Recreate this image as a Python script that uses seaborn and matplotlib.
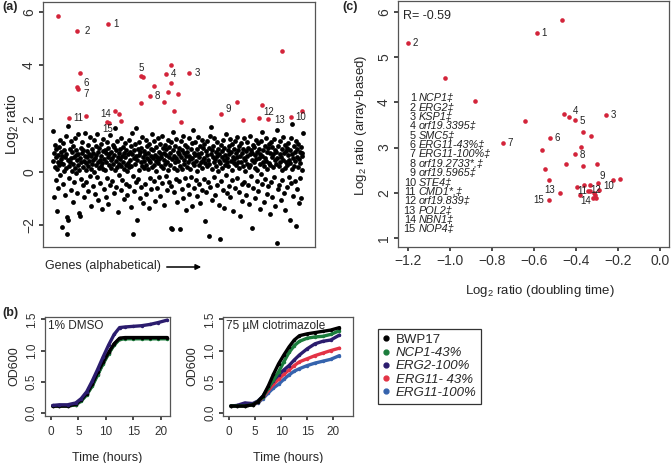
import numpy as np
import pandas as pd
import matplotlib
matplotlib.use("Agg")
import matplotlib.pyplot as plt
import seaborn as sns
from matplotlib.lines import Line2D

# ---------------- panel (a): log2 ratio of every gene (alphabetical order) ----------------
black_log2 = [
    1.55, 0.42, -0.95, 0.71, 0.18, 1.02, -0.31, 0.55, 0.86, 0.12, -1.45, 0.37, 0.64, -0.58, 0.93, 0.25, 1.21, -0.12, 0.48, 0.77,
    0.33, -2.06, 0.61, 1.08, -0.44, 0.29, 0.82, 0.05, -0.87, 0.57, 1.36, 0.14, 0.69, -2.31, -1.68, -1.78, 0.46, 1.74, 0.21, -0.22,
    0.88, 0.39, -0.66, 1.15, 0.52, 0.03, 0.74, -1.12, 0.31, 0.97, 0.58, -0.36, 1.27, 0.16, 0.63, -0.05, 0.84, 0.44, -0.79, 0.27,
    0.66, 1.41, 0.09, -1.53, -1.63, 0.51, 0.92, -0.27, 0.36, 0.73, 1.12, -0.49, 0.19, 0.81, 0.43, -0.94, 0.62, 1.48, 0.08, 0.35,
    -0.38, 0.79, 0.55, 1.03, -0.71, 0.24, 0.67, 0.41, -0.15, 1.31, 0.11, 0.59, -1.26, 0.85, 0.32, 0.71, -0.52, 0.47, 1.19, 0.02,
    0.53, -0.83, 0.96, 0.28, 0.65, -0.19, 1.44, 0.38, -1.05, 0.74, 0.15, 0.89, 0.47, -0.41, 1.06, 0.22, 0.61, -1.38, 0.34, 0.78,
    0.13, 1.25, -0.62, 0.49, 0.83, 0.06, -0.93, 0.71, 0.37, 1.13, -0.24, 0.58, 0.91, -1.19, 0.26, 0.68, 1.38, -0.47, 0.44, 0.17,
    0.76, -0.35, 0.52, 1.01, 0.29, -0.77, 0.63, 0.95, 0.07, 1.66, 0.41, -0.56, 0.84, 0.19, 1.17, -1.48, 0.55, 0.32, 0.73, -0.11,
    0.48, 0.87, -0.68, 0.23, 1.29, 0.61, -0.29, 0.39, 0.94, 0.12, -1.02, 0.72, 0.56, 1.09, -0.43, 0.27, 0.81, 0.04, -0.85, 0.66,
    0.35, 1.22, 0.18, -0.51, 0.77, 0.45, 0.98, -1.31, 0.24, 0.69, 1.46, -0.16, -2.31, 0.54, 0.83, -0.72, 0.31, 1.04, 0.59, -0.39,
    1.64, -1.78, 0.47, 0.86, -0.26, 0.63, 1.11, 0.09, -0.97, 0.74, 0.38, 0.92, -0.55, 0.21, 1.33, 0.57, -1.15, 0.42, 0.79, 0.14,
    -0.45, 0.68, 1.19, 0.26, -0.81, 0.53, 0.97, 0.11, 0.72, -1.36, 0.44, 1.05, -0.21, 0.36, 0.88, 0.62, -0.64, 1.42, 0.19, 0.51,
    0.83, -0.32, 0.28, 1.16, 0.65, -1.07, 0.41, 0.93, 0.03, 0.57, -0.59, 1.28, 0.34, 0.76, -0.18, 0.49, 1.07, -0.88, 0.22, 0.69,
    0.58, 1.35, -0.42, 0.17, 0.91, 0.46, -1.22, 0.73, 0.31, 1.02, -0.13, 0.64, 0.85, -0.69, 0.39, 1.21, 0.07, 0.55, -0.37, 0.94,
    0.26, 0.71, -0.54, 1.13, -2.09, -2.15, 0.48, 0.82, 1.52, 0.15, -0.76, 0.61, 0.37, 0.99, -0.27, 0.53, 1.24, 0.08, -1.11, 0.75,
    0.43, 0.92, -0.35, 0.67, -2.15, 0.24, 1.18, 0.56, -0.62, 0.81, 0.13, 1.37, -0.96, 0.45, 0.72, 0.31, -0.23, 1.03, 0.59, -1.41,
    0.77, 0.18, 0.95, -0.48, 0.36, 1.26, 0.62, -0.83, 0.49, 0.11, 0.87, -0.17, 1.09, 0.54, -1.29, 1.58, 0.33, 0.71, -0.58, 0.26,
    0.64, 1.14, -0.31, 0.42, 0.85, 0.05, -0.91, 0.69, 1.31, 0.27, -0.44, 0.58, 0.96, -1.17, 0.38, 0.73, 0.16, 1.22, -0.66, 0.47,
    0.89, -0.25, 0.52, 1.07, -1.84, 0.34, 0.78, -0.73, 0.21, 1.16, 0.63, -0.39, 0.45, 0.92, -2.41, 0.29, 1.34, -0.57, 1.70, 0.66,
    0.12, 0.81, -1.03, 0.56, 0.97, 0.37, -0.19, 1.27, 0.48, -0.86, 0.74, 0.23, 1.12, -0.47, 0.61, 0.04, 0.88, -1.24, 0.42, 0.69,
    -2.52, 0.35, 1.03, -0.34, 0.58, 0.79, 0.17, -0.68, 1.19, 0.46, 0.91, -1.33, 0.27, 0.64, -0.12, 1.41, 0.53, -0.79, 0.38, 0.84,
    0.22, -0.51, 0.97, 0.66, 1.23, -0.93, 0.41, 0.75, 0.09, -0.28, 1.06, 0.57, -1.46, 0.33, 0.86, 0.49, -0.61, 1.17, 0.28, 0.71,
    0.55, 1.32, -0.22, 0.39, 0.82, -0.74, 0.14, 0.96, -1.65, 0.61, 0.36, 1.08, -0.43, 0.73, -1.09, 0.24, 0.87, 0.51, -0.36, 1.26,
    0.44, 0.03, 0.78, -0.87, 0.59, 1.14, 0.31, -0.49, 0.92, 0.18, -1.21, 0.67, 1.36, 0.26, -0.15, 0.83, -2.09, 0.47, 0.72, 1.02,
    -0.58, 0.39, 0.94, 0.15, -0.97, 0.63, 1.22, 0.48, -0.32, 0.77, 0.06, 1.09, -0.71, 0.54, 0.88, -1.39, 0.29, 0.69, 1.17, -0.09,
    0.62, 1.52, -0.45, 0.37, 0.81, -1.13, 0.23, 0.97, 0.53, -0.26, 1.29, 0.41, -0.84, 0.74, 0.12, 0.89, -0.53, 1.05, 0.34, -1.58,
    0.71, 0.28, 1.11, -0.38, 0.56, 0.93, -0.92, 0.19, 0.67, 1.24, -0.17, 0.45, 0.84, -1.27, 0.32, 0.76, 1.58, -2.66, 0.51, -0.63,
    0.98, 0.21, -0.47, 0.66, 1.18, 0.39, -1.06, 0.58, 0.85, 0.07, -0.29, 1.33, 0.47, -0.77, 0.72, 0.16, 1.01, -1.44, 0.36, 0.79,
    0.27, 0.92, -0.56, 0.63, 1.09, -0.18, 0.44, 0.81, -1.80, 0.35, 1.27, -0.41, 0.69, 0.13, 1.80, -0.89, 0.53, 0.96, 0.22, -0.33,
    0.74, 0.41, 1.15, -2.02, 0.58, -0.64, 0.87, 0.19, 1.06, -1.17, 0.49, 0.76, -0.24, 0.33, 0.95, -0.98, 0.62, 0.09, 0.71, 1.48,
]
# selected (red) genes: position in the alphabetical list and log2 ratio
red_pos = [13, 131, 58, 65, 58, 59, 38, 79, 130, 135, 149, 159, 162, 210, 216, 210, 243, 232,
           271, 283, 284, 275, 266, 300, 291, 307, 327, 403, 442, 455, 501, 494, 516, 548, 570, 598]
red_log2 = [5.84, 5.54, 5.30, 3.73, 3.19, 3.10, 2.04, 2.11, 1.88, 1.84, 2.30, 2.16, 1.93, 3.60, 3.57, 2.57, 3.24, 2.84,
            3.66, 4.02, 3.33, 2.99, 2.62, 2.93, 2.27, 1.88, 3.70, 2.17, 2.62, 1.96, 2.51, 2.04, 1.98, 4.53, 2.05, 2.27]

# ---------------- panel (c): doubling time vs array ratio ----------------
c_doubling = [-0.465, -0.584, -1.200, -1.025, -0.883, -0.644, -0.749, -0.457, -0.432, -0.405, -0.256, -0.524,
              -0.367, -0.327, -0.375, -0.403, -0.560, -0.446, -0.367, -0.302, -0.549, -0.530, -0.478, -0.529,
              -0.294, -0.224, -0.190, -0.289, -0.394, -0.360, -0.332, -0.344, -0.332, -0.314, -0.308, -0.379,
              -0.319, -0.303]
c_array = [5.83, 5.54, 5.31, 4.55, 4.03, 3.58, 3.11, 3.74, 3.67, 3.61, 3.71, 3.22,
           3.34, 3.26, 3.01, 2.86, 2.94, 2.63, 2.59, 2.63, 2.52, 2.29, 1.99, 1.85,
           2.21, 2.28, 2.31, 2.06, 2.13, 2.17, 2.17, 2.05, 2.04, 1.99, 1.94, 1.94,
           1.89, 1.89]
gene_numbers = ["1", "2", "3", "4", "5", "6", "7", "8", "9", "10", "11", "12", "13", "14", "15"]
gene_names = ["NCP1‡", "ERG2‡", "KSP1‡", "orf19.3395‡", "SMC5‡", "ERG11-43%‡", "ERG11-100%‡",
              "orf19.2733*,‡", "orf19.5965‡", "STE4‡", "CMD1*,‡", "orf19.839‡", "POL2‡", "NBN1‡", "NOP4‡"]
r_value = -0.59

# ---------------- panel (b): growth curves ----------------
hours = [0.3, 1.5, 3, 4.5, 5.5, 6.5, 7.5, 8.5, 9.5, 10.5, 11.5, 12.5, 13.5, 15, 16.5, 18, 19.5, 21.2]
strains = ["BWP17", "NCP1-43%", "ERG2-100%", "ERG11- 43%", "ERG11-100%"]
dmso_bwp17 = [0.11, 0.11, 0.11, 0.14, 0.21, 0.31, 0.46, 0.65, 0.82, 0.97, 1.11, 1.20, 1.21, 1.21, 1.21, 1.21, 1.21, 1.21]
dmso_ncp1 = [0.11, 0.11, 0.11, 0.13, 0.19, 0.29, 0.43, 0.61, 0.79, 0.95, 1.09, 1.18, 1.19, 1.19, 1.19, 1.19, 1.19, 1.19]
dmso_erg2 = [0.12, 0.13, 0.13, 0.16, 0.23, 0.34, 0.51, 0.70, 0.90, 1.09, 1.26, 1.37, 1.38, 1.39, 1.40, 1.42, 1.45, 1.49]
dmso_erg11_43 = [0.11, 0.11, 0.11, 0.13, 0.20, 0.30, 0.44, 0.63, 0.80, 0.96, 1.10, 1.19, 1.20, 1.20, 1.20, 1.20, 1.20, 1.20]
dmso_erg11_100 = [0.11, 0.11, 0.11, 0.13, 0.20, 0.30, 0.44, 0.62, 0.80, 0.96, 1.10, 1.19, 1.20, 1.20, 1.20, 1.20, 1.20, 1.20]
clo_bwp17 = [0.11, 0.11, 0.11, 0.13, 0.18, 0.27, 0.43, 0.62, 0.79, 0.93, 1.06, 1.17, 1.24, 1.27, 1.29, 1.31, 1.33, 1.37]
clo_ncp1 = [0.11, 0.11, 0.11, 0.13, 0.18, 0.26, 0.40, 0.53, 0.66, 0.82, 0.97, 1.08, 1.15, 1.20, 1.22, 1.23, 1.26, 1.32]
clo_erg2 = [0.11, 0.12, 0.16, 0.15, 0.19, 0.27, 0.40, 0.52, 0.61, 0.69, 0.76, 0.85, 0.93, 1.03, 1.11, 1.15, 1.17, 1.25]
clo_erg11_43 = [0.11, 0.11, 0.11, 0.13, 0.17, 0.25, 0.36, 0.46, 0.54, 0.62, 0.69, 0.76, 0.82, 0.87, 0.92, 0.96, 1.00, 1.04]
clo_erg11_100 = [0.11, 0.11, 0.11, 0.13, 0.16, 0.23, 0.32, 0.40, 0.46, 0.54, 0.61, 0.67, 0.71, 0.76, 0.80, 0.83, 0.86, 0.92]

RED = "#d3243a"
strain_colors = ["#000000", "#1b7d3c", "#2b1c6e", "#e33345", "#3563ad"]

sns.set_theme(style="ticks")
plt.rcParams["font.family"] = ["Liberation Sans", "DejaVu Sans"]
plt.rcParams["mathtext.default"] = "regular"
plt.rcParams["axes.edgecolor"] = "#555555"
plt.rcParams["axes.linewidth"] = 0.9
plt.rcParams["xtick.major.size"] = 3
plt.rcParams["ytick.major.size"] = 3
plt.rcParams["xtick.color"] = "#333333"
plt.rcParams["ytick.color"] = "#333333"

W, H = 671, 463
fig = plt.figure(figsize=(W / 100, H / 100), dpi=100)


def box(left, top, right, bottom):
    return [left / W, 1 - bottom / H, (right - left) / W, (bottom - top) / H]


def rot_yticks(ax, size):
    ax.tick_params(axis="y", labelsize=size, pad=2)
    for t in ax.get_yticklabels():
        t.set_rotation(90)
        t.set_va("center")


# ---- (a) ----
ax_a = fig.add_axes(box(43, 2, 315, 247))
sns.scatterplot(x=np.arange(len(black_log2)), y=black_log2, color="black", s=12, linewidth=0, ax=ax_a)
sns.scatterplot(x=red_pos, y=red_log2, color=RED, s=11, linewidth=0, ax=ax_a)
ax_a.set_xlim(-24, 628)
ax_a.set_ylim(-2.81, 6.375)
ax_a.set_xticks([])
ax_a.set_yticks([-2, 0, 2, 4, 6])
ax_a.set_yticklabels(["\u22122", "0", "2", "4", "6"])
rot_yticks(ax_a, 10)
ax_a.set_ylabel("")
# labels next to the red genes: (text, index in red list, dx, dy, ha) in points
a_labels = [("1", 1, 4, 0, "left"), ("2", 2, 5, 0, "left"), ("6", 4, 4.5, 2.5, "left"),
            ("7", 5, 4.5, -3.5, "left"), ("11", 6, 3, 0, "left"), ("14", 8, -1, 5.5, "center"),
            ("15", 9, -1, -4.5, "center"), ("5", 13, 0.5, 6, "center"), ("8", 17, 3.5, 0, "left"),
            ("4", 18, 3.5, 0, "left"), ("3", 26, 3.5, 0, "left"), ("9", 27, 5, 4, "center"),
            ("12", 32, 0, 5, "center"), ("13", 32, 4.5, -0.5, "left"), ("10", 34, 3.5, 0, "left")]
for txt, i, dx, dy, ha in a_labels:
    ax_a.annotate(txt, (red_pos[i], red_log2[i]), xytext=(dx, dy), textcoords="offset points",
                  fontsize=7, ha=ha, va="center", color="#222222")
fig.text(12 / W, 1 - 124 / H, "Log$_2$ ratio", rotation=90, ha="center", va="center", fontsize=10)
fig.text(45 / W, 1 - 266 / H, "Genes (alphabetical)", ha="left", va="center", fontsize=9)
ax_a.annotate("", xy=(204 / W, 1 - 267 / H), xytext=(164 / W, 1 - 267 / H), xycoords="figure fraction",
              textcoords="figure fraction",
              arrowprops=dict(arrowstyle="-|>", color="black", lw=1.1, mutation_scale=8))

# ---- (c) ----
ax_c = fig.add_axes(box(398, 1, 669, 247))
sns.scatterplot(x=c_doubling, y=c_array, color=RED, s=11, linewidth=0, ax=ax_c)
ax_c.set_xlim(-1.248, 0.043)
ax_c.set_ylim(0.80, 6.243)
ax_c.set_xticks([-1.2, -1.0, -0.8, -0.6, -0.4, -0.2, 0.0])
ax_c.set_xticklabels(["\u22121.2", "\u22121.0", "\u22120.8", "\u22120.6", "\u22120.4", "\u22120.2", "0.0"])
ax_c.tick_params(axis="x", labelsize=10, pad=2)
ax_c.set_yticks([1, 2, 3, 4, 5, 6])
rot_yticks(ax_c, 10)
ax_c.set_ylabel("")
c_labels = [("1", 1, 3, 0, "left"), ("2", 2, 3, 0, "left"), ("3", 10, 3, 0, "left"),
            ("4", 7, 6, 2, "left"), ("5", 9, 3.5, -0.5, "left"), ("6", 11, 3.5, 0, "left"),
            ("7", 6, 3.5, 0, "left"), ("8", 15, 2.8, -1, "left"), ("9", 24, 3, 5, "center"),
            ("10", 27, 3, 3, "left"), ("11", 31, -0.5, 0, "right"), ("12", 33, 1.5, 2.5, "center"),
            ("13", 22, -3, 2, "right"), ("14", 35, 4, -4, "center"), ("15", 23, -3.5, 0, "right")]
for txt, i, dx, dy, ha in c_labels:
    ax_c.annotate(txt, (c_doubling[i], c_array[i]), xytext=(dx, dy), textcoords="offset points",
                  fontsize=7, ha=ha, va="center", color="#222222")
for k, (num, name) in enumerate(zip(gene_numbers, gene_names)):
    yk = 4.09 - k * 0.207
    ax_c.text(-1.163, yk, num, ha="right", va="center", fontsize=7.8, color="#222222")
    ax_c.text(-1.150, yk, name, ha="left", va="center", fontsize=7.8, style="italic", color="#222222")
ax_c.text(-1.225, 5.92, f"R= {r_value}", ha="left", va="center", fontsize=9)
fig.text(361 / W, 1 - 125 / H, "Log$_2$ ratio (array-based)", rotation=90, ha="center", va="center", fontsize=9.5)
fig.text(540 / W, 1 - 291 / H, "Log$_2$ ratio (doubling time)", ha="center", va="center", fontsize=9.5)

# ---- (b) ----
rows = []
for cond, series in [("dmso", [dmso_bwp17, dmso_ncp1, dmso_erg2, dmso_erg11_43, dmso_erg11_100]),
                     ("clo", [clo_bwp17, clo_ncp1, clo_erg2, clo_erg11_43, clo_erg11_100])]:
    for strain, vals in zip(strains, series):
        for t, v in zip(hours, vals):
            rows.append((cond, strain, t, v))
growth = pd.DataFrame(rows, columns=["condition", "strain", "hours", "od600"])
palette = dict(zip(strains, strain_colors))

ax_b1 = fig.add_axes(box(44.5, 317, 170, 416))
ax_b2 = fig.add_axes(box(223, 317, 353, 416))
draw_order = {"dmso": ["ERG11-100%", "ERG11- 43%", "NCP1-43%", "BWP17", "ERG2-100%"],
              "clo": ["ERG11-100%", "ERG11- 43%", "ERG2-100%", "NCP1-43%", "BWP17"]}
for ax, cond, title, xmax in [(ax_b1, "dmso", "1% DMSO", 21.7), (ax_b2, "clo", "75 \u00b5M clotrimazole", 23.8)]:
    for strain in draw_order[cond]:
        sub = growth[(growth.condition == cond) & (growth.strain == strain)]
        sns.lineplot(data=sub, x="hours", y="od600", color=palette[strain], linewidth=2.4,
                     marker="o", markersize=2.5, markeredgewidth=0, ax=ax)
    ax.set_xlim(-1.2, xmax)
    ax.set_ylim(-0.05, 1.54)
    ax.set_xticks([0, 5, 10, 15, 20])
    ax.set_yticks([0.0, 0.5, 1.0, 1.5])
    ax.set_yticklabels(["0.0", "0.5", "1.0", "1.5"])
    ax.tick_params(axis="x", labelsize=8.5, pad=4)
    rot_yticks(ax, 8.5)
    ax.set_xlabel("Time (hours)", fontsize=9, labelpad=10)
    ax.set_ylabel("OD600", fontsize=9, labelpad=4)
    ax.text(0.025, 0.97, title, transform=ax.transAxes, ha="left", va="top", fontsize=8.5)

handles = [Line2D([], [], marker="o", linestyle="", color=c, markersize=3.5) for c in strain_colors]
leg = fig.legend(handles, strains, loc="upper left", bbox_to_anchor=(378 / W, 1 - 329 / H),
                 frameon=True, fancybox=False, fontsize=9.5, handlelength=0.5, handletextpad=0.5,
                 labelspacing=0.08, borderpad=0.35, borderaxespad=0)
leg.get_frame().set_edgecolor("black")
leg.get_frame().set_linewidth(0.9)
for t in leg.get_texts()[1:]:
    t.set_style("italic")

# panel letters
fig.text(2 / W, 1 - 7 / H, "(a)", fontsize=9, fontweight="bold", va="center")
fig.text(2 / W, 1 - 313 / H, "(b)", fontsize=9, fontweight="bold", va="center")
fig.text(342 / W, 1 - 7 / H, "(c)", fontsize=9, fontweight="bold", va="center")

fig.savefig("out.png", dpi=100)
